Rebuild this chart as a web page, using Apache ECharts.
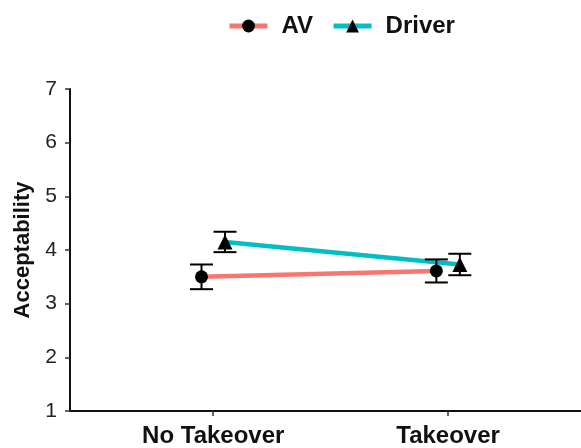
<!DOCTYPE html>
<html><head><meta charset="utf-8">
<script src="https://cdn.jsdelivr.net/npm/echarts@6/dist/echarts.min.js"></script>
<style>html,body{margin:0;padding:0;background:#fff}#c{width:581px;height:448px}</style>
</head><body><div id="c"></div>
<script>
const categories = ['No Takeover', 'Takeover'];
const seriesNames = ['AV', 'Driver'];
const avMean = [3.50, 3.61];
const avSE = [0.23, 0.215];
const driverMean = [4.15, 3.73];
const driverSE = [0.19, 0.20];
const yTicks = [1, 2, 3, 4, 5, 6, 7];

const dodge = 0.05;
const colors = ['#F8766D', '#00BFC4'];
const font = 'Liberation Sans, Arial, sans-serif';

function pts(means, off) { return means.map((m, i) => [i + 1 + off, m]); }
function errs(means, se, off) { return means.map((m, i) => [i + 1 + off, m - se[i], m + se[i]]); }

const errRender = function (params, api) {
  const x = api.value(0), lo = api.value(1), hi = api.value(2);
  const pLo = api.coord([x, lo]), pHi = api.coord([x, hi]);
  const hw = 11.5;
  const st = { stroke: '#000', lineWidth: 2 };
  return { type: 'group', children: [
    { type: 'line', shape: { x1: pLo[0], y1: pLo[1], x2: pHi[0], y2: pHi[1] }, style: st },
    { type: 'line', shape: { x1: pLo[0] - hw, y1: pLo[1], x2: pLo[0] + hw, y2: pLo[1] }, style: st },
    { type: 'line', shape: { x1: pHi[0] - hw, y1: pHi[1], x2: pHi[0] + hw, y2: pHi[1] }, style: st }
  ]};
};

const chart = echarts.init(document.getElementById('c'));
chart.setOption({
  animation: false,
  textStyle: { fontFamily: font },
  legend: {
    data: seriesNames.map((n, i) => ({ name: n, lineStyle: { color: colors[i], width: 5 } })),
    left: 222, top: 9,
    itemWidth: 38, itemHeight: 16, itemGap: 18,
    textStyle: { fontFamily: font, fontSize: 24, fontWeight: 'bold', color: '#111', padding: [0, 0, 0, 9] }
  },
  grid: { left: 70, right: 0, top: 89, bottom: 35 },
  xAxis: {
    type: 'value', min: 0.39, max: 2.566,
    splitLine: { show: false },
    axisLine: { lineStyle: { color: '#111', width: 2 } },
    axisTick: { show: true, customValues: [1, 2], length: 5, lineStyle: { color: '#333', width: 1.5 } },
    axisLabel: { customValues: [1, 2], margin: 13, fontFamily: font, fontSize: 24, fontWeight: 'bold', color: '#111',
      formatter: v => categories[Math.round(v) - 1] || '' }
  },
  yAxis: {
    type: 'value', min: 1, max: 7, interval: 1,
    name: 'Acceptability', nameLocation: 'middle', nameGap: 33,
    nameTextStyle: { fontFamily: font, fontSize: 22, fontWeight: 'bold', color: '#111' },
    splitLine: { show: false },
    axisLine: { show: true, lineStyle: { color: '#111', width: 2 } },
    axisTick: { show: true, length: 5, lineStyle: { color: '#333', width: 1.5 } },
    axisLabel: { margin: 13, fontFamily: font, fontSize: 21, color: '#222',
      formatter: v => yTicks.includes(v) ? String(v) : '' }
  },
  series: [
    { name: 'AV', type: 'line', data: pts(avMean, -dodge), symbol: 'circle', symbolSize: 13,
      lineStyle: { color: colors[0], width: 4.5 }, itemStyle: { color: '#000' }, z: 3 },
    { name: 'Driver', type: 'line', data: pts(driverMean, dodge), symbol: 'triangle', symbolSize: 15,
      lineStyle: { color: colors[1], width: 4.5 }, itemStyle: { color: '#000' }, z: 3 },
    { name: 'AVerr', type: 'custom', renderItem: errRender, data: errs(avMean, avSE, -dodge), z: 4 },
    { name: 'Drivererr', type: 'custom', renderItem: errRender, data: errs(driverMean, driverSE, dodge), z: 4 }
  ]
});
</script></body></html>
